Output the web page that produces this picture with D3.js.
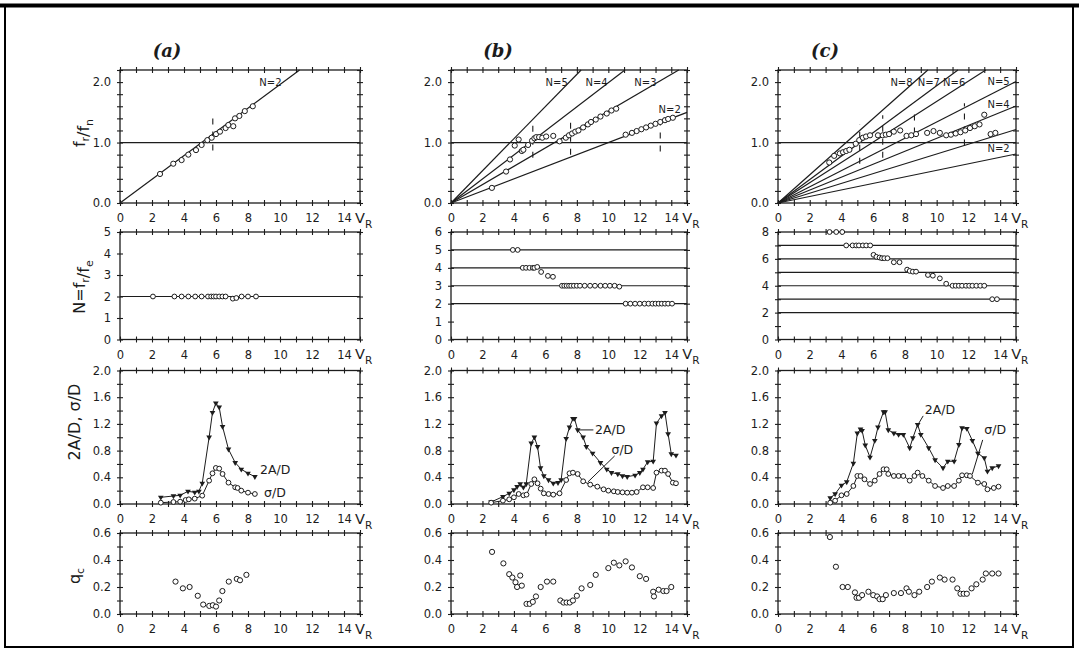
<!DOCTYPE html>
<html>
<head>
<meta charset="utf-8">
<script src="https://cdn.jsdelivr.net/npm/d3@7"></script>
<style>
  body { margin: 0; background: #fff; }
  svg { display: block; }
  text { fill: #1c1c1c; }
</style>
</head>
<body>
<svg></svg>
<script>
const W = 1079, H = 651;

// ---- data ----
const columns = ['(a)', '(b)', '(c)'];
const xTickLabels = [0, 2, 4, 6, 8, 10, 12, 14];

// row 1 : f_r/f_n against V_R, lines through origin for each mode N
const modesA = [2], slopesA = [0.196], namedA = [2];
const modesB = [2, 3, 4, 5], slopesB = [0.100, 0.152, 0.199, 0.266], namedB = [2, 3, 4, 5];
const modesC = [2, 3, 4, 5, 6, 7, 8], slopesC = [0.054, 0.081, 0.107, 0.134, 0.168, 0.194, 0.233], namedC = [2, 4, 5, 6, 7, 8];

const freqA = [[2.5,0.48],[3.33,0.65],[3.85,0.71],[4.27,0.8],[4.75,0.875],[5.1,0.96],[5.46,1.04],[5.73,1.08],
  [6.0,1.14],[6.25,1.18],[6.6,1.24],[6.77,1.29],[7.08,1.27],[7.19,1.4],[7.46,1.44],[7.8,1.52],[8.3,1.6]];
const freqB = [[2.6,0.25],[3.5,0.52],[3.75,0.72],[4.05,0.95],[4.3,1.05],[4.5,0.86],[4.6,0.88],[4.9,0.96],
  [5.15,1.03],[5.3,1.07],[5.42,1.09],[5.6,1.09],[5.8,1.08],[6.05,1.1],[6.5,1.11],[6.9,1.02],[7.3,1.08],[7.5,1.12],
  [7.7,1.15],[7.9,1.18],[8.1,1.2],[8.4,1.25],[8.7,1.3],[8.9,1.34],[9.2,1.38],[9.5,1.43],[9.9,1.48],[10.2,1.53],
  [10.5,1.56],[11.1,1.13],[11.5,1.16],[11.8,1.19],[12.1,1.22],[12.4,1.25],[12.7,1.28],[13.0,1.31],[13.3,1.34],
  [13.6,1.37],[13.8,1.39],[14.1,1.41]];
const freqC = [[3.23,0.67],[3.54,0.78],[3.9,0.82],[4.1,0.84],[4.3,0.86],[4.5,0.88],[4.9,0.98],[5.12,1.04],
  [5.35,1.08],[5.55,1.1],[5.8,1.12],[6.3,1.12],[6.6,1.12],[6.8,1.13],[7.0,1.14],[7.3,1.18],[7.7,1.2],[8.1,1.11],
  [8.4,1.12],[8.7,1.14],[9.4,1.16],[9.8,1.19],[10.2,1.16],[10.6,1.12],[10.9,1.13],[11.2,1.15],[11.5,1.17],
  [11.8,1.2],[12.1,1.24],[12.4,1.27],[12.7,1.3],[13.0,1.46],[13.4,1.14],[13.7,1.16]];

// dashed vertical marks on row 1: [V_R, low, high]
const marksA = [[5.8, 0.87, 1.47]];
const marksB = [[5.2, 0.75, 1.28], [7.6, 0.8, 1.4], [13.3, 0.85, 1.4]];
const marksC = [[5.15, 0.65, 1.3], [6.6, 0.75, 1.45], [8.6, 1.15, 1.5], [11.75, 0.95, 1.65]];

// row 2 : N = f_r/f_e
const levelsA = [2], levelsB = [2, 3, 4, 5], levelsC = [2, 3, 4, 5, 6, 7];
const ratioA = [[2.06,2],[3.4,2],[3.85,2],[4.27,2],[4.7,2],[5.1,2],[5.5,2],[5.7,2],[5.85,2],[6.0,2],[6.2,2],
  [6.4,2],[6.6,2],[7.05,1.9],[7.27,1.93],[7.6,2],[8.0,2],[8.5,2]];
const ratioB = [[3.93,5],[4.24,5],[4.56,4],[4.77,4],[4.99,4],[5.2,4],[5.3,4],[5.48,4.05],[5.73,3.77],[6.16,3.55],
  [6.48,3.5],[7.05,3],[7.2,3],[7.35,3],[7.5,3],[7.64,3],[7.81,3],[8.0,3],[8.2,3],[8.5,3],[8.84,3],[9.15,3],
  [9.5,3],[9.8,3],[10.1,3],[10.4,3],[10.7,2.95],[11.1,2],[11.4,2],[11.7,2],[12.0,2],[12.3,2],[12.55,2],[12.8,2],
  [13.0,2],[13.2,2],[13.4,2],[13.6,2],[13.8,2],[14.05,2]];
const ratioC = [[3.25,8],[3.67,8],[4.05,8],[4.3,7],[4.7,7],[4.93,7],[5.1,7],[5.35,7],[5.56,7],[5.81,7],
  [6.02,6.3],[6.2,6.15],[6.4,6.1],[6.55,6.05],[6.7,6.05],[6.9,6.05],[7.3,5.75],[7.66,5.75],[8.14,5.2],[8.3,5.1],
  [8.5,5.05],[8.7,5.05],[9.45,4.8],[9.76,4.75],[10.2,4.55],[10.6,4.15],[11.0,4],[11.2,4],[11.4,4],[11.6,4],
  [11.85,4],[12.05,4],[12.25,4],[12.5,4],[12.75,4],[13.0,4],[13.5,3],[13.8,3]];

// row 3 : 2A/D (triangles) and sigma/D (circles)
const ampA = [[2.55,0.1],[3.34,0.12],[3.76,0.13],[4.25,0.19],[4.67,0.175],[4.93,0.19],[5.14,0.31],[5.57,1.0],
  [5.78,1.37],[5.99,1.51],[6.2,1.45],[6.41,1.16],[6.78,0.82],[7.2,0.62],[7.58,0.52],[8.0,0.46],[8.43,0.41]];
const sigA = [[2.55,0.02],[3.34,0.03],[3.76,0.035],[4.1,0.06],[4.3,0.07],[4.67,0.08],[5.14,0.125],[5.57,0.35],
  [5.78,0.46],[5.99,0.54],[6.2,0.53],[6.41,0.45],[6.78,0.32],[7.2,0.25],[7.35,0.24],[7.58,0.2],[8.0,0.17],[8.43,0.15]];
const ampB = [[2.55,0.03],[3.3,0.11],[3.7,0.16],[4.0,0.21],[4.2,0.26],[4.4,0.3],[4.6,0.25],[4.78,0.3],[5.1,0.91],
  [5.3,1.0],[5.5,0.86],[5.69,0.54],[5.9,0.42],[6.2,0.36],[6.5,0.31],[6.8,0.32],[7.0,0.36],[7.32,0.98],[7.53,1.15],
  [7.75,1.28],[7.85,1.28],[8.05,1.11],[8.4,1.0],[8.6,0.86],[9.0,0.76],[9.5,0.62],[9.9,0.52],[10.2,0.47],[10.6,0.45],
  [10.9,0.42],[11.2,0.41],[11.7,0.43],[12.0,0.47],[12.2,0.52],[12.5,0.63],[12.85,0.64],[13.06,1.21],[13.38,1.32],
  [13.6,1.37],[13.8,1.05],[14.0,0.75],[14.3,0.73]];
const sigB = [[2.55,0.02],[3.3,0.05],[3.7,0.07],[4.0,0.1],[4.3,0.15],[4.6,0.13],[4.8,0.14],[5.1,0.3],[5.3,0.37],
  [5.5,0.31],[5.7,0.23],[5.9,0.16],[6.2,0.15],[6.5,0.14],[6.9,0.16],[7.32,0.36],[7.53,0.46],[7.75,0.47],[8.05,0.45],
  [8.4,0.34],[8.85,0.29],[9.3,0.26],[9.7,0.22],[10.0,0.2],[10.35,0.19],[10.6,0.18],[10.9,0.175],[11.2,0.17],
  [11.5,0.17],[11.8,0.18],[12.2,0.25],[12.5,0.25],[12.85,0.24],[13.06,0.47],[13.38,0.5],[13.6,0.5],[13.8,0.45],
  [14.1,0.32],[14.3,0.31]];
const ampC = [[3.29,0.09],[3.6,0.15],[4.0,0.28],[4.33,0.33],[4.75,0.61],[5.0,1.06],[5.2,1.12],[5.3,1.1],[5.5,0.88],
  [5.8,0.7],[6.1,0.95],[6.3,1.15],[6.65,1.38],[6.75,1.38],[6.95,1.11],[7.3,1.06],[7.6,1.04],[7.9,1.04],[8.3,0.84],
  [8.5,0.99],[8.8,1.19],[9.0,1.04],[9.5,0.84],[9.9,0.66],[10.4,0.54],[10.7,0.64],[11.1,0.64],[11.4,0.89],
  [11.6,1.14],[11.9,1.13],[12.25,0.95],[12.6,0.76],[13.0,0.69],[13.2,0.49],[13.5,0.54],[13.9,0.57]];
const sigC = [[3.29,0.02],[3.6,0.05],[4.0,0.13],[4.33,0.15],[4.75,0.27],[5.0,0.42],[5.2,0.42],[5.45,0.37],
  [5.8,0.3],[6.1,0.35],[6.4,0.45],[6.65,0.52],[6.85,0.52],[6.95,0.45],[7.3,0.42],[7.6,0.42],[7.9,0.42],[8.3,0.35],
  [8.6,0.42],[8.8,0.47],[9.1,0.42],[9.5,0.35],[9.9,0.27],[10.4,0.24],[10.7,0.27],[11.1,0.27],[11.4,0.35],
  [11.6,0.43],[11.9,0.43],[12.1,0.42],[12.6,0.32],[13.0,0.3],[13.2,0.22],[13.6,0.24],[13.9,0.26]];

// row 4 : q_c
const qA = [[3.47,0.24],[3.93,0.19],[4.35,0.2],[4.86,0.135],[5.2,0.07],[5.58,0.06],[5.8,0.065],[6.0,0.055],
  [6.2,0.1],[6.4,0.17],[6.8,0.24],[7.3,0.26],[7.5,0.25],[7.9,0.29]];
const qB = [[2.61,0.46],[3.33,0.375],[3.7,0.295],[3.9,0.27],[4.1,0.235],[4.2,0.2],[4.4,0.285],[4.5,0.21],
  [4.8,0.075],[5.0,0.075],[5.2,0.09],[5.4,0.13],[5.7,0.2],[6.1,0.24],[6.5,0.24],[6.95,0.1],[7.15,0.085],
  [7.35,0.085],[7.55,0.085],[7.75,0.1],[8.0,0.135],[8.3,0.19],[8.85,0.215],[9.2,0.29],[10.0,0.34],[10.35,0.38],
  [10.7,0.36],[11.1,0.39],[11.5,0.345],[12.0,0.28],[12.4,0.26],[12.85,0.165],[12.9,0.13],[13.2,0.18],[13.5,0.17],
  [13.7,0.17],[14.0,0.2]];
const qC = [[3.27,0.57],[3.65,0.35],[4.07,0.2],[4.4,0.2],[4.85,0.16],[4.95,0.12],[5.1,0.12],[5.3,0.14],[5.7,0.165],
  [6.0,0.14],[6.25,0.13],[6.4,0.11],[6.6,0.11],[6.8,0.14],[7.3,0.155],[7.75,0.155],[8.1,0.19],[8.25,0.165],
  [8.6,0.14],[8.9,0.165],[9.4,0.2],[9.7,0.24],[10.2,0.27],[10.5,0.255],[11.0,0.255],[11.3,0.19],[11.5,0.15],
  [11.7,0.15],[11.9,0.15],[12.2,0.19],[12.5,0.22],[12.9,0.255],[13.1,0.3],[13.5,0.3],[13.9,0.3]];

// annotations of row 3: text anchor point and optional leader
const ampNotes = [
  { col: 0, text: '2A/D', at: [8.75, 0.51] },
  { col: 0, text: 'σ/D', at: [9.0, 0.17] },
  { col: 1, text: '2A/D', at: [9.15, 1.11], from: [8.05, 1.11], to: [9.05, 1.11] },
  { col: 1, text: 'σ/D', at: [10.2, 0.81], from: [8.7, 0.33], to: [10.4, 0.72] },
  { col: 2, text: '2A/D', at: [9.25, 1.41], from: [8.85, 1.2], to: [9.15, 1.32] },
  { col: 2, text: 'σ/D', at: [13.0, 1.11], from: [12.25, 0.45], to: [12.9, 0.96] }
];

// ---- layout ----
const ink = '#1c1c1c';
const sans = '"DejaVu Sans", sans-serif';
const colLeft = [120, 451, 778], colRight = [360, 687, 1016];
const rowBox = [[70, 203], [232, 339.5], [370.5, 504], [533, 614]];

const svg = d3.select('svg').attr('width', W).attr('height', H);

// outer frame of the scanned figure
svg.append('rect').attr('x', 5).attr('y', 5).attr('width', W - 11).attr('height', H - 9)
  .attr('fill', 'none').attr('stroke', '#000').attr('stroke-width', 2);
svg.append('line').attr('x1', 0).attr('x2', W).attr('y1', 5.5).attr('y2', 5.5)
  .attr('stroke', '#000').attr('stroke-width', 4);

const panel = (ci, ri, yMax, yMinorStep, yLabels, fmt) => {
  const x = d3.scaleLinear().domain([0, 15]).range([colLeft[ci], colRight[ci]]);
  const y = d3.scaleLinear().domain([0, yMax]).range([rowBox[ri][1], rowBox[ri][0]]);
  const g = svg.append('g').attr('color', ink).style('font-family', sans);
  const xMinor = d3.range(0, 15.01, 1);
  const yMinor = d3.range(0, yMax + 1e-6, yMinorStep);

  const ticks = (axis, tx, ty) => g.append('g')
    .attr('transform', `translate(${tx},${ty})`)
    .call(axis.tickFormat(''))
    .call(s => s.select('.domain').remove())
    .selectAll('line').attr('stroke-width', 1.1);

  [y(0), y(yMax)].forEach(p => {
    ticks(d3.axisBottom(x).tickValues(xMinor).tickSize(3), 0, p);
    ticks(d3.axisTop(x).tickValues(xMinor).tickSize(3), 0, p);
  });
  [x(0), x(15)].forEach(p => {
    ticks(d3.axisLeft(y).tickValues(yMinor).tickSize(3), p, 0);
    ticks(d3.axisRight(y).tickValues(yMinor).tickSize(3), p, 0);
  });

  g.append('rect')
    .attr('x', x(0)).attr('y', y(yMax))
    .attr('width', x(15) - x(0)).attr('height', y(0) - y(yMax))
    .attr('fill', 'none').attr('stroke', ink).attr('stroke-width', 1.3);

  g.append('g').attr('transform', `translate(0,${y(0)})`)
    .call(d3.axisBottom(x).tickValues(xTickLabels).tickSize(0).tickPadding(11))
    .call(s => s.select('.domain').remove())
    .attr('font-size', 11.5).style('font-family', sans);

  g.append('g').attr('transform', `translate(${x(0)},0)`)
    .call(d3.axisLeft(y).tickValues(yLabels).tickSize(0).tickPadding(9).tickFormat(fmt))
    .call(s => s.select('.domain').remove())
    .attr('font-size', 11.5).style('font-family', sans);

  // V_R after the last tick label
  const vr = g.append('text')
    .attr('x', x(14) + 11).attr('y', y(0) + 19.5)
    .attr('font-size', 14.5);
  vr.append('tspan').text('V');
  vr.append('tspan').attr('dy', 5).attr('font-size', 10.5).text('R');

  return { x, y, g };
};

const dots = (p, data, r = 2.6) => p.g.append('g').selectAll('circle').data(data).enter()
  .append('circle')
  .attr('cx', d => p.x(d[0])).attr('cy', d => p.y(d[1])).attr('r', r)
  .attr('fill', 'white').attr('stroke', ink).attr('stroke-width', 1);

const hlines = (p, levels) => p.g.append('g').selectAll('line').data(levels).enter()
  .append('line')
  .attr('x1', p.x(0)).attr('x2', p.x(15))
  .attr('y1', d => p.y(d)).attr('y2', d => p.y(d))
  .attr('stroke', ink).attr('stroke-width', 1.2);

const lineGen = p => d3.line().x(d => p.x(d[0])).y(d => p.y(d[1]));

// ---- column titles ----
columns.forEach((t, i) => {
  svg.append('text')
    .attr('x', colLeft[i] + 47).attr('y', 57)
    .attr('text-anchor', 'middle')
    .style('font-family', '"DejaVu Serif", "Liberation Serif", serif')
    .style('font-style', 'italic').style('font-weight', 'bold')
    .attr('font-size', 18)
    .text(t);
});

// ---- row 1 ----
const fmt1 = d3.format('.1f');
const row1 = [
  [modesA, slopesA, namedA, freqA, marksA],
  [modesB, slopesB, namedB, freqB, marksB],
  [modesC, slopesC, namedC, freqC, marksC]
];
row1.forEach(([modes, slopes, named, pts, marks], ci) => {
  const p = panel(ci, 0, 2.2, 0.2, [0, 1, 2], fmt1);
  hlines(p, [1]);
  modes.forEach((n, k) => {
    const s = slopes[k];
    const xe = Math.min(15, 2.2 / s);
    p.g.append('path').datum([[0, 0], [xe, s * xe]])
      .attr('d', lineGen(p)).attr('fill', 'none')
      .attr('stroke', ink).attr('stroke-width', 1.2);
    if (named.includes(n)) {
      const top = 2.0 / s < 14;
      const lx = top ? 2.0 / s - 0.8 : 13.9;
      const ly = top ? 2.0 : s * 13.9 + 0.15;
      p.g.append('text')
        .attr('x', p.x(lx)).attr('y', p.y(ly)).attr('dy', '0.35em')
        .attr('text-anchor', 'middle').attr('font-size', 10)
        .text(`N=${n}`);
    }
  });
  p.g.append('g').selectAll('line').data(marks).enter().append('line')
    .attr('x1', d => p.x(d[0])).attr('x2', d => p.x(d[0]))
    .attr('y1', d => p.y(d[1])).attr('y2', d => p.y(d[2]))
    .attr('stroke', ink).attr('stroke-width', 1.1).attr('stroke-dasharray', '6,7');
  dots(p, pts);
});

// ---- row 2 ----
const fmt0 = d3.format('d');
const row2 = [
  [5, [0, 1, 2, 3, 4, 5], levelsA, ratioA],
  [6, [0, 1, 2, 3, 4, 5, 6], levelsB, ratioB],
  [8, [0, 2, 4, 6, 8], levelsC, ratioC]
];
row2.forEach(([top, labels, levels, pts], ci) => {
  const p = panel(ci, 1, top, 1, labels, fmt0);
  hlines(p, levels);
  dots(p, pts, 2.4);
});

// ---- row 3 ----
const row3 = [[ampA, sigA], [ampB, sigB], [ampC, sigC]];
const tri = d3.symbol().type(d3.symbolTriangle).size(14);
row3.forEach(([amp, sig], ci) => {
  const p = panel(ci, 2, 2.0, 0.2, [0, 0.4, 0.8, 1.2, 1.6, 2.0], fmt1);
  [amp, sig].forEach(series => {
    p.g.append('path').datum(series).attr('d', lineGen(p))
      .attr('fill', 'none').attr('stroke', ink).attr('stroke-width', 1);
  });
  p.g.append('g').selectAll('path').data(amp).enter().append('path')
    .attr('d', tri)
    .attr('transform', d => `translate(${p.x(d[0])},${p.y(d[1])}) rotate(180)`)
    .attr('fill', ink);
  dots(p, sig, 2.4);
  ampNotes.filter(n => n.col === ci).forEach(n => {
    if (n.from) {
      p.g.append('path').datum([n.from, n.to]).attr('d', lineGen(p))
        .attr('stroke', ink).attr('stroke-width', 1).attr('fill', 'none');
    }
    p.g.append('text')
      .attr('x', p.x(n.at[0])).attr('y', p.y(n.at[1])).attr('dy', '0.35em')
      .attr('font-size', 12.5).text(n.text);
  });
});

// ---- row 4 ----
const row4 = [qA, qB, qC];
row4.forEach((pts, ci) => {
  const p = panel(ci, 3, 0.6, 0.1, [0, 0.2, 0.4, 0.6], fmt1);
  dots(p, pts);
});

// ---- y titles, left column only ----
const ytitle = (cy, parts, x = 79) => {
  const t = svg.append('text')
    .attr('transform', `translate(${x + 6},${cy}) rotate(-90)`)
    .attr('text-anchor', 'middle').attr('font-size', 16)
    .style('font-family', sans);
  parts.forEach(([s, sub]) => {
    t.append('tspan').attr('dy', sub ? 4 : 0).attr('font-size', sub ? 11 : 16).text(s);
    if (sub) t.append('tspan').attr('dy', -4).text('');
  });
};
ytitle(133, [['f'], ['r', true], ['/f'], ['n', true]]);
ytitle(287, [['N=f'], ['r', true], ['/f'], ['e', true]]);
ytitle(422, [['2A/D, σ/D']], 74);
ytitle(576, [['q'], ['c', true]], 74);
</script>
</body>
</html>
